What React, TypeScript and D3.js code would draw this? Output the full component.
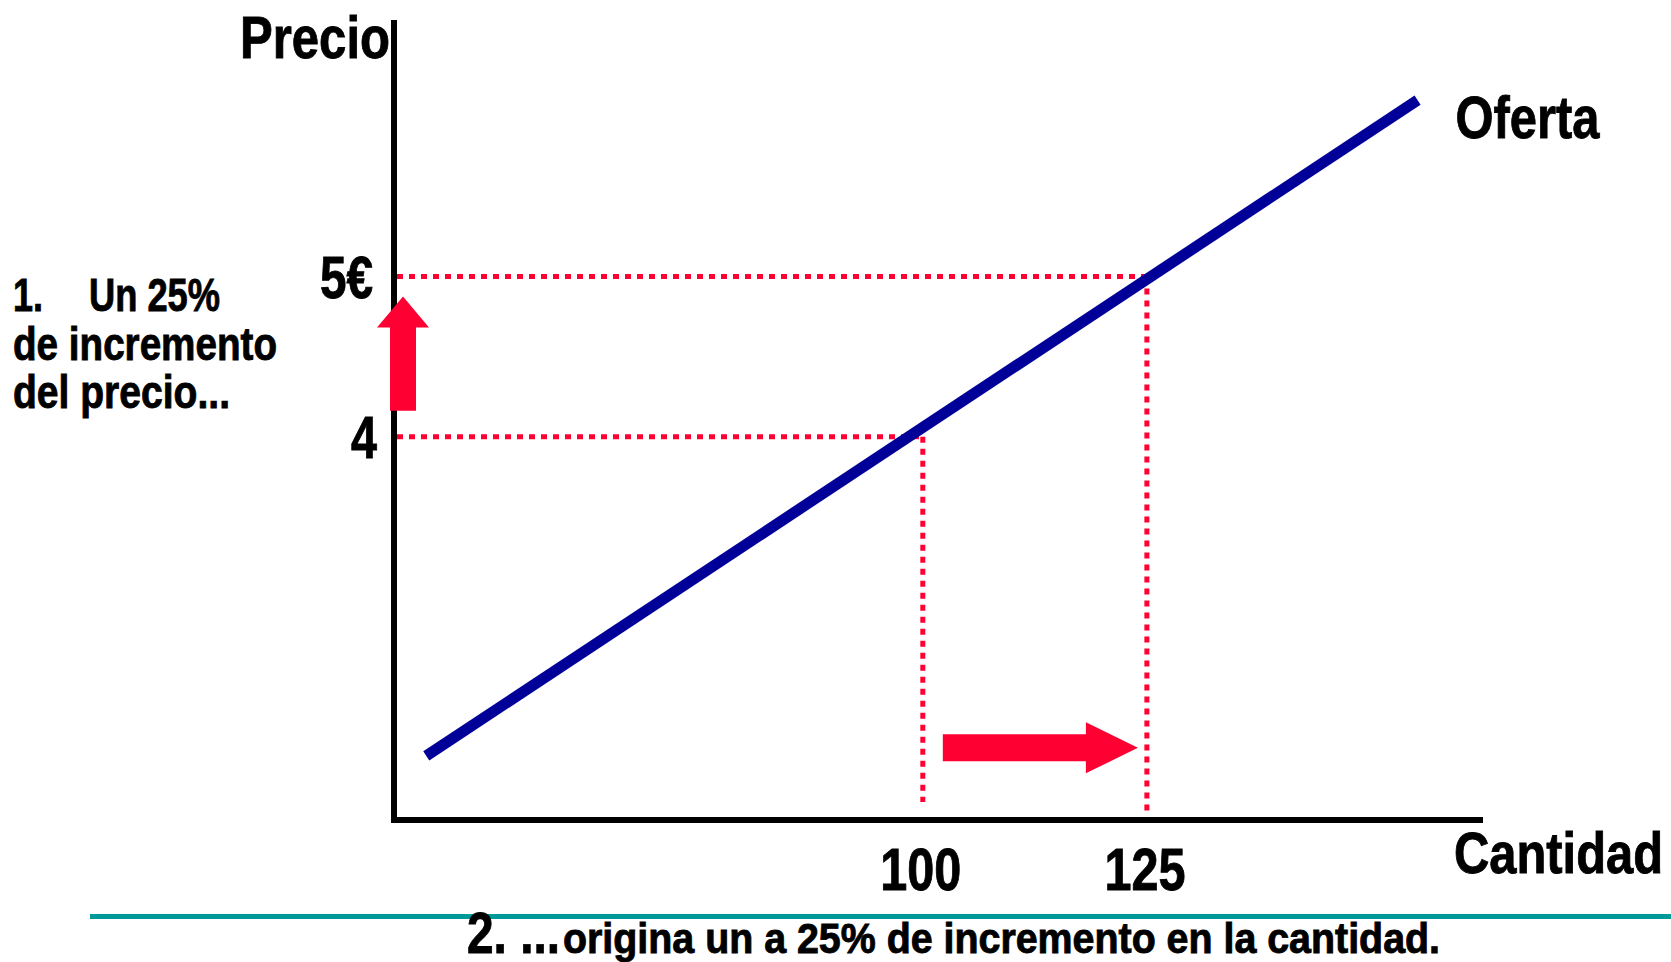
import React from "react";
import * as d3 from "d3";

// ---- data ----
const quantityExtent = [41, 162.5];
const priceExtent = [1.61, 6.6];
const quantityTicks = [100, 125];
const quantityTickLabels = ["100", "125"];
const priceTicks = [4, 5];
const priceTickLabels = ["4", "5€"];
const supplyQuantity = [44.6, 155.2];
const supplyPrice = [2.01, 6.1];
const arrowPrice = 2.06;
const leftNote = ["1.", "Un 25%", "de incremento", "del precio..."];
const bottomNoteLead = "2. ...";
const bottomNoteRest = "origina un a 25% de incremento en la cantidad.";

const W = 1671;
const H = 962;
const FONT = "'Liberation Sans Narrow', 'Arial Narrow', 'Liberation Sans', Arial, sans-serif";
const RED = "#ff0033";
const BLUE = "#000099";
const TEAL = "#009999";

export default function App() {
  const x = d3.scaleLinear().domain(quantityExtent).range([394, 1483]);
  const y = d3.scaleLinear().domain(priceExtent).range([820, 20]);

  const supplyPts: [number, number][] = supplyQuantity.map((q, i) => [x(q), y(supplyPrice[i])]);
  const line = d3.line<[number, number]>();

  const x0 = x(quantityExtent[0]);
  const y0 = y(priceExtent[0]);

  // up arrow (price increase)
  const ucx = x0 + 9;
  const uTip = y(priceTicks[1]) + 20;
  const uBottom = y(priceTicks[0]) - 26;
  const uHeadBase = uTip + 31;
  const upArrow = [
    [ucx - 13, uBottom],
    [ucx - 13, uHeadBase],
    [ucx - 26, uHeadBase],
    [ucx, uTip],
    [ucx + 26, uHeadBase],
    [ucx + 13, uHeadBase],
    [ucx + 13, uBottom],
  ];

  // right arrow (quantity increase)
  const rcy = y(arrowPrice);
  const rStart = x(quantityTicks[0]) + 20;
  const rTip = x(quantityTicks[1]) - 9;
  const rHeadBase = rTip - 52;
  const rightArrow = [
    [rStart, rcy - 13.5],
    [rHeadBase, rcy - 13.5],
    [rHeadBase, rcy - 25.5],
    [rTip, rcy],
    [rHeadBase, rcy + 25.5],
    [rHeadBase, rcy + 13.5],
    [rStart, rcy + 13.5],
  ];

  const vEnds = [y0 - 18, y0 - 7];
  const priceLabelRight = [x0 - 17, x0 - 21];
  const priceLabelLen = [26, 53];

  const txt = {
    fontFamily: FONT,
    fontWeight: 700 as const,
    fill: "#000",
    stroke: "#000",
    strokeWidth: 0.9,
  };

  return (
    <svg
      width={W}
      height={H}
      style={{ position: "absolute", left: 0, top: 0, background: "#fff" }}
    >
      {/* dashed guides */}
      {quantityTicks.map((q, i) => (
        <g key={"g" + i}>
          <line
            x1={x0 + 3}
            x2={x(q)}
            y1={y(priceTicks[i])}
            y2={y(priceTicks[i])}
            stroke={RED}
            strokeWidth={5}
            strokeDasharray="6 6"
          />
          <line
            x1={x(q)}
            x2={x(q)}
            y1={y(priceTicks[i])}
            y2={vEnds[i]}
            stroke={RED}
            strokeWidth={5}
            strokeDasharray="6 6"
          />
        </g>
      ))}

      {/* supply line */}
      <path d={line(supplyPts) || ""} stroke={BLUE} strokeWidth={11} fill="none" strokeLinecap="butt" />

      {/* axes */}
      <path
        d={`M${x0},${y(priceExtent[1])} V${y0} H${x(quantityExtent[1])}`}
        stroke="#000"
        strokeWidth={6}
        fill="none"
        strokeLinejoin="miter"
      />

      {/* arrows */}
      <polygon points={upArrow.map((p) => p.join(",")).join(" ")} fill={RED} />
      <polygon points={rightArrow.map((p) => p.join(",")).join(" ")} fill={RED} />

      {/* axis titles */}
      <text x={240} y={58} fontSize={60} textLength={150} lengthAdjust="spacingAndGlyphs" style={txt}>
        Precio
      </text>
      <text x={1454} y={873} fontSize={58} textLength={209} lengthAdjust="spacingAndGlyphs" style={txt}>
        Cantidad
      </text>
      <text
        x={supplyPts[1][0] + 38}
        y={supplyPts[1][1] + 38}
        fontSize={60}
        textLength={144}
        lengthAdjust="spacingAndGlyphs"
        style={txt}
      >
        Oferta
      </text>

      {/* tick labels */}
      {quantityTicks.map((q, i) => (
        <text
          key={"q" + i}
          x={x(q) - 2 - 40.5}
          y={y0 + 70}
          fontSize={60}
          textLength={81}
          lengthAdjust="spacingAndGlyphs"
          style={txt}
        >
          {quantityTickLabels[i]}
        </text>
      ))}
      {priceTicks.map((p, i) => (
        <text
          key={"p" + i}
          x={priceLabelRight[i] - priceLabelLen[i]}
          y={y(p) + 21.5}
          fontSize={60}
          textLength={priceLabelLen[i]}
          lengthAdjust="spacingAndGlyphs"
          style={txt}
        >
          {priceTickLabels[i]}
        </text>
      ))}

      {/* left note */}
      <text x={13} y={311} fontSize={47} textLength={30} lengthAdjust="spacingAndGlyphs" style={txt}>
        {leftNote[0]}
      </text>
      <text x={89} y={311} fontSize={47} textLength={131} lengthAdjust="spacingAndGlyphs" style={txt}>
        {leftNote[1]}
      </text>
      <text x={13} y={360} fontSize={47} textLength={264} lengthAdjust="spacingAndGlyphs" style={txt}>
        {leftNote[2]}
      </text>
      <text x={13} y={408} fontSize={47} textLength={217} lengthAdjust="spacingAndGlyphs" style={txt}>
        {leftNote[3]}
      </text>

      {/* bottom separator and note */}
      <line x1={90} x2={W} y1={916.5} y2={916.5} stroke={TEAL} strokeWidth={5} />
      <text x={467} y={953} fontSize={57} textLength={93} lengthAdjust="spacingAndGlyphs" style={txt}>
        {bottomNoteLead}
      </text>
      <text x={563} y={953} fontSize={42} textLength={877} lengthAdjust="spacingAndGlyphs" style={txt}>
        {bottomNoteRest}
      </text>
    </svg>
  );
}
